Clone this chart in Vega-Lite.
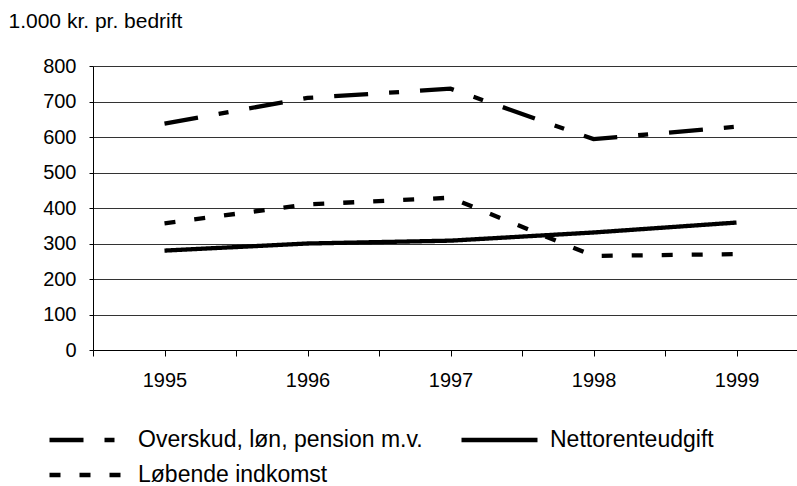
{
  "$schema": "https://vega.github.io/schema/vega-lite/v6.json",
  "autosize": {"type": "none"},
  "padding": {"left": 93, "top": 66, "right": 0, "bottom": 136},
  "width": 704,
  "height": 284,
  "background": "white",
  "config": {
    "view": {"stroke": null},
    "font": "Liberation Sans",
    "axis": {"labelFont": "Liberation Sans", "titleFont": "Liberation Sans", "labelColor": "#000", "titleColor": "#000"},
    "legend": {"labelFont": "Liberation Sans"}
  },
  "data": {
    "values": [
      {"year": 1995, "serie": "Overskud, løn, pension m.v.", "value": 638},
      {"year": 1996, "serie": "Overskud, løn, pension m.v.", "value": 710},
      {"year": 1997, "serie": "Overskud, løn, pension m.v.", "value": 736},
      {"year": 1998, "serie": "Overskud, løn, pension m.v.", "value": 594},
      {"year": 1999, "serie": "Overskud, løn, pension m.v.", "value": 629},
      {"year": 1995, "serie": "Nettorenteudgift", "value": 280},
      {"year": 1996, "serie": "Nettorenteudgift", "value": 300},
      {"year": 1997, "serie": "Nettorenteudgift", "value": 308},
      {"year": 1998, "serie": "Nettorenteudgift", "value": 331},
      {"year": 1999, "serie": "Nettorenteudgift", "value": 359},
      {"year": 1995, "serie": "Løbende indkomst", "value": 357},
      {"year": 1996, "serie": "Løbende indkomst", "value": 410},
      {"year": 1997, "serie": "Løbende indkomst", "value": 429},
      {"year": 1998, "serie": "Løbende indkomst", "value": 265},
      {"year": 1999, "serie": "Løbende indkomst", "value": 270}
    ]
  },
  "mark": {"type": "line", "color": "#000", "strokeWidth": 4.3, "strokeCap": "butt", "strokeJoin": "miter", "clip": false},
  "encoding": {
    "x": {
      "field": "year",
      "type": "quantitative",
      "scale": {"domain": [1994.5, 1999.423], "nice": false, "zero": false},
      "axis": {
        "title": null,
        "values": [1994.5, 1995, 1995.5, 1996, 1996.5, 1997, 1997.5, 1998, 1998.5, 1999],
        "format": ".1f",
        "labelExpr": "datum.value % 1 == 0 ? format(datum.value, 'd') : ''",
        "grid": false,
        "domainColor": "#000",
        "domainWidth": 1,
        "tickColor": "#000",
        "tickWidth": 1,
        "tickSize": 6,
        "labelFontSize": 20,
        "labelPadding": 14,
        "labelOverlap": false,
        "labelFlush": false
      }
    },
    "y": {
      "field": "value",
      "type": "quantitative",
      "scale": {"domain": [0, 800], "nice": false},
      "axis": {
        "title": "1.000 kr. pr. bedrift",
        "titleAngle": 0,
        "titleAlign": "left",
        "titleBaseline": "alphabetic",
        "titleX": -85,
        "titleY": -39,
        "titleFontSize": 21,
        "titleFontWeight": "normal",
        "values": [0, 100, 200, 300, 400, 500, 600, 700, 800],
        "grid": true,
        "gridColor": "#333",
        "gridWidth": 1,
        "domainColor": "#000",
        "domainWidth": 1,
        "tickColor": "#000",
        "tickSize": 4,
        "labelPadding": 13,
        "labelFontSize": 20
      }
    },
    "strokeDash": {
      "field": "serie",
      "type": "nominal",
      "scale": {
        "domain": ["Overskud, løn, pension m.v.", "Nettorenteudgift", "Løbende indkomst"],
        "range": [[34, 21, 10, 21], [1, 0], [11, 19]]
      },
      "legend": {
        "title": null,
        "orient": "none",
        "legendX": -44,
        "legendY": 359,
        "direction": "horizontal",
        "columns": 2,
        "columnPadding": 29,
        "rowPadding": 8,
        "padding": 0,
        "symbolType": "M-1.16,0H4.92",
        "symbolSize": 625,
        "symbolStrokeWidth": 4.3,
        "symbolStrokeColor": "#000",
        "symbolFillColor": "transparent",
        "labelOffset": 59,
        "labelFontSize": 23,
        "labelColor": "#000",
        "labelLimit": 0
      }
    }
  }
}
